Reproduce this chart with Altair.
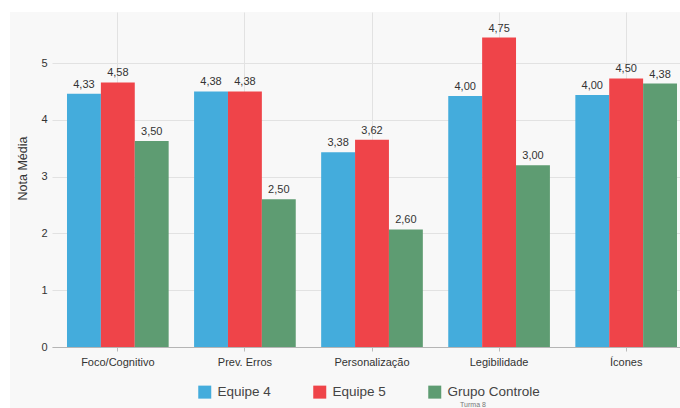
import altair as alt
import pandas as pd

categories = ["Foco/Cognitivo", "Prev. Erros", "Personalização", "Legibilidade", "Ícones"]
groups = ["Equipe 4", "Equipe 5", "Grupo Controle"]
colors = ["#44acdc", "#ef4449", "#5e9c72"]

# bar heights as drawn in the picture
equipe4 = [4.46, 4.50, 3.43, 4.42, 4.44]
equipe5 = [4.66, 4.50, 3.65, 5.45, 4.73]
controle = [3.63, 2.60, 2.07, 3.20, 4.64]

# labels printed above the bars
equipe4_lbl = ["4,33", "4,38", "3,38", "4,00", "4,00"]
equipe5_lbl = ["4,58", "4,38", "3,62", "4,75", "4,50"]
controle_lbl = ["3,50", "2,50", "2,60", "3,00", "4,38"]

y_ticks = [0, 1, 2, 3, 4, 5]

rows = []
for g, vals, lbls in zip(groups, [equipe4, equipe5, controle],
                         [equipe4_lbl, equipe5_lbl, controle_lbl]):
    for c, v, l in zip(categories, vals, lbls):
        rows.append({"categoria": c, "grupo": g, "nota": v, "rotulo": l})
df = pd.DataFrame(rows)

FONT = "Liberation Sans"

x_enc = alt.X(
    "categoria:N", sort=categories, title=None,
    scale=alt.Scale(range=[0, 640], paddingInner=0.2, paddingOuter=0.118),
    axis=alt.Axis(labelAngle=0, labelFontSize=11, labelColor="#333333", labelFont=FONT,
                  tickSize=4, tickColor="#bbbbbb", labelPadding=5,
                  domain=True, domainColor="#b5b5b5",
                  grid=True, gridColor="#e2e2e2"),
)
y_enc = alt.Y(
    "nota:Q", title="Nota Média",
    scale=alt.Scale(domain=[0, 5.9], nice=False),
    axis=alt.Axis(values=y_ticks, format="d", ticks=False, domain=False, labelPadding=5,
                  labelFontSize=11, labelColor="#333333", labelFont=FONT,
                  grid=True, gridColor="#e2e2e2",
                  titleFont=FONT, titleFontSize=12.5, titleFontWeight="normal",
                  titleColor="#333333", titleX=-30, titleY=156,
                  titleBaseline="middle", titleAlign="center"),
)
xoff = alt.XOffset("grupo:N", sort=groups,
                   scale=alt.Scale(paddingInner=0, paddingOuter=0))

base = alt.Chart(df)

bars = base.mark_bar().encode(
    x=x_enc, y=y_enc, xOffset=xoff,
    color=alt.Color("grupo:N", sort=groups,
                    scale=alt.Scale(domain=groups, range=colors),
                    legend=alt.Legend(title=None, orient="none", legendX=146, legendY=373,
                                      direction="horizontal", symbolType="square",
                                      symbolSize=169, symbolStrokeWidth=0,
                                      labelFontSize=13.5, labelColor="#444444",
                                      labelFont=FONT, labelOffset=6, columnPadding=42)),
)

labels = base.mark_text(baseline="bottom", dy=-4, fontSize=11, color="#333333", font=FONT).encode(
    x=alt.X("categoria:N", sort=categories), y="nota:Q", xOffset=xoff, text="rotulo:N",
)

extra = alt.Chart(alt.Data(values=[{"t": "Turma 8"}]))
turma = extra.mark_text(fontSize=7, color="#777777", font=FONT).encode(
    x=alt.value(421), y=alt.value(393), text="t:N"
)
strip_top = extra.mark_rect(color="white").encode(
    x=alt.value(-52), x2=alt.value(640), y=alt.value(-12), y2=alt.value(0)
)
strip_left = extra.mark_rect(color="white").encode(
    x=alt.value(-52), x2=alt.value(-42), y=alt.value(-12), y2=alt.value(400)
)

chart = alt.layer(bars, labels, turma, strip_top, strip_left).properties(
    width=628, height=335,
    autosize=alt.AutoSizeParams(type="none"),
    padding={"left": 52, "top": 12, "right": 0, "bottom": 61},
).configure(background="#f8f8f8").configure_view(stroke=None)

chart.save("out.html", embed_options={"renderer": "svg", "actions": False})
